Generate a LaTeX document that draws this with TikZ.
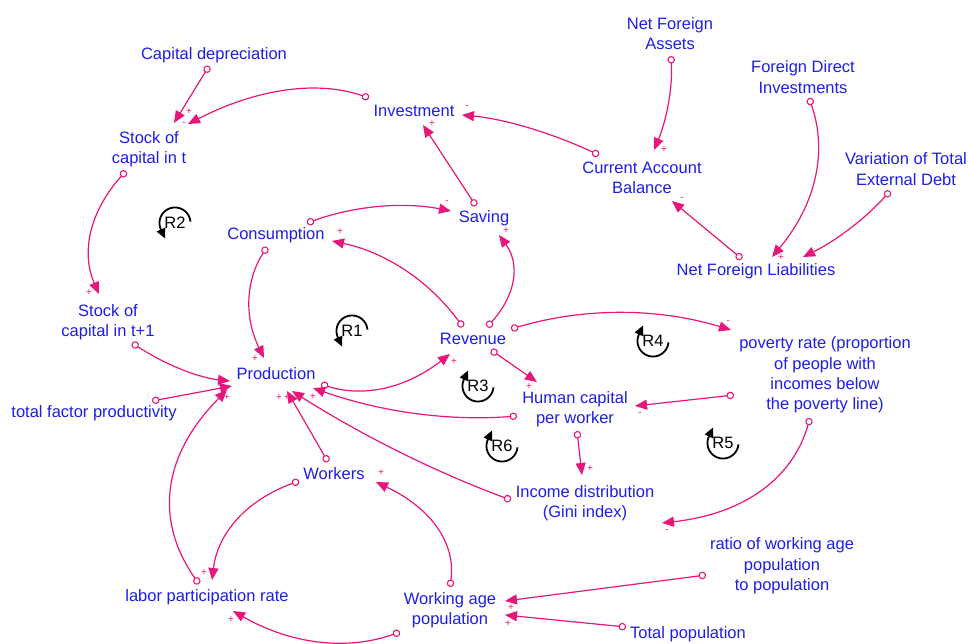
\documentclass[tikz,border=0pt]{standalone}
\usepackage{fontspec}
\setmainfont{Liberation Sans}
\usetikzlibrary{arrows.meta,calc}
\definecolor{linkpink}{RGB}{232,22,122}
\definecolor{varblue}{RGB}{30,30,230}
\tikzset{
  var/.style={text=varblue, font=\fontsize{16.5}{20.3}\selectfont, align=center, inner sep=0pt},
  link/.style={draw=linkpink, line width=1.2pt,
    {Circle[open,length=7.5pt,width=7.5pt,line width=1.1pt]}-{Triangle[length=12pt,width=10pt]}},
  pol/.style={text=linkpink, font=\fontsize{10}{10}\selectfont, inner sep=0pt},
  loopline/.style={draw=black, line width=1.8pt, -{Triangle[length=10pt,width=9pt]}},
  looplabel/.style={text=black, font=\fontsize{16.5}{20}\selectfont, inner sep=0pt},
  % reinforcing-loop marker, arrow at the lower left pointing down
  pics/loopdown/.style={code={
     \draw[loopline] plot[domain=0:1, samples=40] ({15.5*cos(5+200*\x)},{-15.5*sin(5+200*\x)}) -- ++(4.2,9.1);
     \node[looplabel] (-tag) at (0,0) {#1};}},
  % reinforcing-loop marker, arrow at the upper left pointing up
  pics/loopup/.style={code={
     \draw[loopline] plot[domain=0:1, samples=40] ({15.5*cos(-5-200*\x)},{-15.5*sin(-5-200*\x)}) -- ++(4.2,-9.1);
     \node[looplabel] (-tag) at (0,0) {#1};}},
}
\begin{document}
\begin{tikzpicture}[x=1pt,y=-1pt]
\fill[white] (0,0) rectangle (968,644);
\useasboundingbox (0,0) rectangle (968,644);

% variables
\node[var] (capdep)  at (214,55)   {Capital depreciation};
\node[var] (inv)     at (414,111)  {Investment};
\node[var] (stockt)  at (149,149)  {Stock of\\capital in t};
\node[var] (cons)    at (276,235)  {Consumption};
\node[var] (saving)  at (484,218)  {Saving};
\node[var] (nfa)     at (670,33.5) {Net Foreign\\Assets};
\node[var] (fdi)     at (803,77)   {Foreign Direct\\Investments};
\node[var] (cab)     at (642,178)  {Current Account\\Balance};
\node[var] (vted)    at (906,169)  {Variation of Total\\External Debt};
\node[var] (nfl)     at (756,271)  {Net Foreign Liabilities};
\node[var] (stockt1) at (108,322)  {Stock of\\capital in t+1};
\node[var] (prod)    at (276,374)  {Production};
\node[var] (tfp)     at (94,413)   {total factor productivity};
\node[var] (rev)     at (473,339)  {Revenue};
\node[var] (pov)     at (825,375)  {poverty rate (proportion\\of people with\\incomes below\\the poverty line)};
\node[var] (hc)      at (575,409)  {Human capital\\per worker};
\node[var] (workers) at (334,474)  {Workers};
\node[var] (income)  at (585,503)  {Income distribution\\(Gini index)};
\node[var] (lpr)     at (207,597)  {labor participation rate};
\node[var] (wap)     at (450,610)  {Working age\\population};
\node[var] (ratio)   at (782,566)  {ratio of working age\\population\\to population};
\node[var] (totpop)  at (688,634)  {Total population};

% causal links
\draw[link] ($(capdep)+(-5,11)$) -- ($(stockt)+(25,-26)$);
\draw[link] ($(inv)+(-45,-13)$) .. controls (317.3,80) and (257,88.7) .. ($(stockt)+(39,-25)$);
\draw[link] ($(saving)+(-8,-12)$) -- ($(inv)+(9,14)$);
\draw[link] ($(cab)+(-43,-23)$) .. controls (550,132.3) and (504.3,119) .. ($(inv)+(48,4)$);
\draw[link] ($(nfa)+(1,22.5)$) .. controls (672.7,87.3) and (667,118.7) .. ($(cab)+(12,-28)$);
\draw[link] ($(fdi)+(6,21)$) .. controls (828,151.7) and (815.7,204.7) .. ($(nfl)+(16,-14)$);
\draw[link] ($(vted)+(-16,22)$) .. controls (865.7,218.3) and (836.7,240.3) .. ($(nfl)+(47,-14)$);
\draw[link] ($(nfl)+(-14,-12)$) -- ($(cab)+(30,23)$);
\draw[link] ($(stockt)+(-23,22)$) .. controls (89.7,211.3) and (80.7,252.3) .. ($(stockt1)+(-9,-28)$);
\draw[link] ($(cons)+(31,-12)$) .. controls (355,205.7) and (403,201.7) .. ($(saving)+(-33,-7)$);
\draw[link] ($(rev)+(-10,-12)$) .. controls (429.3,281) and (385.7,252.3) .. ($(cons)+(56,6)$);
\draw[link] ($(rev)+(14,-12)$) .. controls (516,295) and (520.3,264.3) .. ($(saving)+(15,17)$);
\draw[link] ($(cons)+(-9,12)$) .. controls (245.3,280.7) and (244.3,317.7) .. ($(prod)+(-12,-16)$);
\draw[link] ($(stockt1)+(24,21)$) .. controls (166,365) and (198.7,377.7) .. ($(prod)+(-46,7)$);
\draw[link] ($(tfp)+(58,-12)$) -- ($(prod)+(-44,12)$);
\draw[link] ($(prod)+(45,10)$) .. controls (363.3,398) and (406.3,388) .. ($(rev)+(-23,15)$);
\draw[link] ($(rev)+(18,11)$) -- ($(hc)+(-38,-27)$);
\draw[link] ($(rev)+(38,-10)$) .. controls (584.3,307.3) and (657.7,307.7) .. ($(pov)+(-94,-45)$);
\draw[link] ($(hc)+(-58,7)$) .. controls (449,421.3) and (381,412) .. ($(prod)+(37,14)$);
\draw[link] ($(hc)+(2,22)$) -- ($(income)+(-3,-28)$);
\draw[link] ($(pov)+(-91,20)$) -- ($(hc)+(60,-3)$);
\draw[link] ($(pov)+(-15,43)$) .. controls (792.7,479) and (743.3,514) .. ($(income)+(77,20)$);
\draw[link] ($(income)+(-74,-3)$) .. controls (436,472.3) and (363,436) .. ($(prod)+(16,17)$);
\draw[link] ($(workers)+(-6,-12)$) -- ($(prod)+(11,17)$);
\draw[link] ($(workers)+(-35,7)$) .. controls (246.7,500) and (217.7,533) .. ($(lpr)+(5,-17)$);
\draw[link] ($(lpr)+(-8,-13)$) .. controls (153.7,519.3) and (163,454.7) .. ($(prod)+(-49,16)$);
\draw[link] ($(wap)+(0,-23)$) .. controls (456,543.3) and (431.3,508.3) .. ($(workers)+(42,8)$);
\draw[link] ($(wap)+(-50,22)$) .. controls (346.3,651) and (290.7,644) .. ($(lpr)+(26,14)$);
\draw[link] ($(ratio)+(-76,9)$) -- ($(wap)+(55,-9)$);
\draw[link] ($(totpop)+(-62,-7)$) -- ($(wap)+(55,5)$);

% link polarities
\foreach \s/\px/\py [count=\i] in {
  +/189/112, -/184/124, +/432/124, -/467/107, +/664/150, -/682/199,
  +/781/258, -/447/202, +/506/231, +/340/232, +/89/293, +/255/359,
  +/221/387, +/227/398, +/279/398, +/287/398, +/313/397, +/454/362,
  +/529/387, -/640/414, +/590/469, -/728/322, -/667/531, +/381/473,
  +/204/573, +/231/620, +/511/608, +/508/624}
  \node[pol] (sign\i) at (\px,\py) {\s};

% loop markers
\pic (r1) at (352,331) {loopdown=R1};
\pic (r2) at (175,223) {loopdown=R2};
\pic (r3) at (478,386) {loopup=R3};
\pic (r4) at (653,341) {loopup=R4};
\pic (r5) at (723,443) {loopup=R5};
\pic (r6) at (502,446) {loopup=R6};
\end{tikzpicture}
\end{document}
